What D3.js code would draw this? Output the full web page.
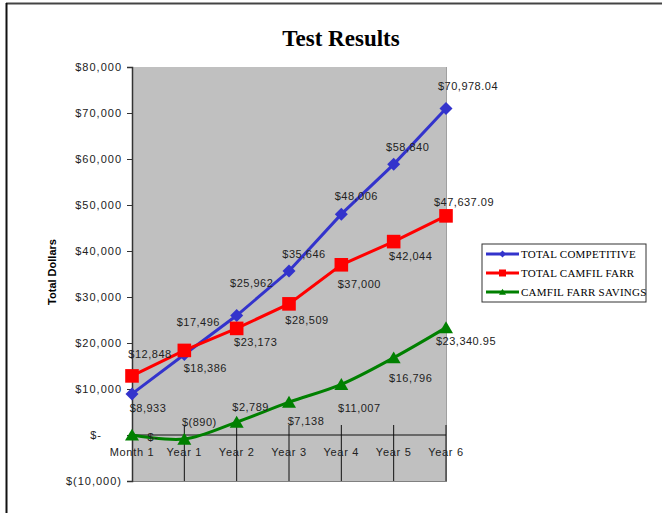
<!DOCTYPE html>
<html>
<head>
<meta charset="utf-8">
<script src="https://cdn.jsdelivr.net/npm/d3@7"></script>
<style>
  body { margin: 0; background: #fff; }
  svg { display: block; font-family: Arial, "Liberation Sans", sans-serif; }
</style>
</head>
<body>
<svg id="chart"></svg>
<script>
const width = 662;
const height = 513;

// data
const categories = ['Month 1', 'Year 1', 'Year 2', 'Year 3', 'Year 4', 'Year 5', 'Year 6'];
const totalCompetitive = [8933, 17496, 25962, 35646, 48006, 58840, 70978.04];
const totalCamfil = [12848, 18386, 23173, 28509, 37000, 42044, 47637.09];
const camfilSavings = [0, -890, 2789, 7138, 11007, 16796, 23340.95];
const yTicks = [-10000, 0, 10000, 20000, 30000, 40000, 50000, 60000, 70000, 80000];

// label placement (dx, dy from the point)
const compOffsets = [[16, 14], [14, -32], [15, -32], [15, -17], [15, -18], [14, -17], [22, -22]];
const camfilOffsets = [[18, -22], [21, 18], [19, 14], [18, 16], [18, 19], [17, 15], [18, -14]];
const savingsOffsets = [[21, 2], [15, -17], [14, -15], [17, 19], [18, 24], [17, 20], [20, 14]];

const series = [
    {name: 'TOTAL COMPETITIVE', values: totalCompetitive, color: '#3333cc', marker: 'diamond', offsets: compOffsets, curve: d3.curveLinear},
    {name: 'TOTAL CAMFIL FARR', values: totalCamfil, color: '#ff0000', marker: 'square', offsets: camfilOffsets, curve: d3.curveLinear},
    {name: 'CAMFIL FARR SAVINGS', values: camfilSavings, color: '#008000', marker: 'triangle', offsets: savingsOffsets, curve: d3.curveCatmullRom.alpha(0.5)}
];

const plot = {left: 132, right: 446, top: 67, bottom: 481};

const svg = d3.select('#chart').attr('width', width).attr('height', height);

// outer frame (only top and left edges visible)
svg.append('line').attr('x1', 6).attr('x2', width).attr('y1', 3.5).attr('y2', 3.5)
    .attr('stroke', '#444').attr('stroke-width', 2);
svg.append('line').attr('x1', 6.5).attr('x2', 6.5).attr('y1', 3).attr('y2', height)
    .attr('stroke', '#111').attr('stroke-width', 2);

const x = d3.scalePoint().domain(categories).range([plot.left, plot.right]);
const y = d3.scaleLinear().domain([-10000, 80000]).range([plot.bottom, plot.top]);

function money(v) {
    if (v === 0) return '$-';
    const f = Number.isInteger(v) ? d3.format(',') : d3.format(',.2f');
    return v < 0 ? '$(' + f(-v) + ')' : '$' + f(v);
}

// plot background
svg.append('rect')
    .attr('x', plot.left).attr('y', plot.top)
    .attr('width', plot.right - plot.left).attr('height', plot.bottom - plot.top)
    .attr('fill', '#c0c0c0');
svg.append('line').attr('x1', plot.left).attr('x2', plot.right + 1)
    .attr('y1', plot.bottom + 0.5).attr('y2', plot.bottom + 0.5)
    .attr('stroke', '#808080');
svg.append('line').attr('x1', plot.right + 0.5).attr('x2', plot.right + 0.5)
    .attr('y1', plot.top).attr('y2', plot.bottom)
    .attr('stroke', '#a0a0a0');

// title
svg.append('text')
    .attr('x', 341).attr('y', 46)
    .attr('text-anchor', 'middle')
    .style('font-family', '"Liberation Serif", "Times New Roman", serif')
    .style('font-weight', 'bold')
    .style('font-size', '23px')
    .text('Test Results');

// y axis
const yAxis = svg.append('g')
    .attr('transform', `translate(${plot.left}, 0)`)
    .call(d3.axisLeft(y).tickValues(yTicks).tickSize(5).tickPadding(5).tickFormat(money));
yAxis.select('.domain').attr('stroke', '#333').attr('stroke-width', 1.5);
yAxis.selectAll('.tick line').attr('stroke', '#333');
yAxis.selectAll('.tick text')
    .style('font-size', '11px')
    .style('letter-spacing', '1px')
    .attr('fill', '#222')
    .attr('dx', d => d === 0 ? -20 : 0);

svg.append('text')
    .attr('transform', 'translate(56, 272) rotate(-90)')
    .attr('text-anchor', 'middle')
    .style('font-size', '11px')
    .style('font-weight', 'bold')
    .text('Total Dollars');

// x axis at zero
svg.append('line')
    .attr('x1', plot.left).attr('x2', plot.right)
    .attr('y1', y(0)).attr('y2', y(0))
    .attr('stroke', '#111');
svg.selectAll('.xtick')
    .data(categories.slice(1))
    .enter()
    .append('line')
    .attr('class', 'xtick')
    .attr('x1', d => x(d)).attr('x2', d => x(d))
    .attr('y1', y(0) - 10).attr('y2', plot.bottom)
    .attr('stroke', '#111');
svg.selectAll('.xlabel')
    .data(categories)
    .enter()
    .append('text')
    .attr('class', 'xlabel')
    .attr('x', d => x(d)).attr('y', y(0) + 21)
    .attr('text-anchor', 'middle')
    .style('font-size', '11px')
    .style('letter-spacing', '0.7px')
    .attr('fill', '#222')
    .text(d => d);

// markers
function markerPath(type, s) {
    if (type === 'diamond') return `M0,${-s}L${s},0L0,${s}L${-s},0Z`;
    if (type === 'square') return `M${-s},${-s}H${s}V${s}H${-s}Z`;
    return `M0,${-s * 0.9}L${s},${s * 0.8}L${-s},${s * 0.8}Z`;
}
const markerSize = {diamond: 6.5, square: 6.8, triangle: 7};

series.forEach(s => {
    const pts = s.values.map((v, i) => ({cat: categories[i], value: v, off: s.offsets[i]}));
    svg.append('path')
        .datum(pts)
        .attr('fill', 'none')
        .attr('stroke', s.color)
        .attr('stroke-width', 3)
        .attr('d', d3.line().curve(s.curve).x(d => x(d.cat)).y(d => y(d.value)));
    svg.selectAll(null)
        .data(pts)
        .enter()
        .append('path')
        .attr('transform', d => `translate(${x(d.cat)}, ${y(d.value)})`)
        .attr('d', markerPath(s.marker, markerSize[s.marker]))
        .attr('fill', s.color);
});

series.forEach(s => {
    const pts = s.values.map((v, i) => ({cat: categories[i], value: v, off: s.offsets[i]}));
    svg.selectAll(null)
        .data(pts)
        .enter()
        .append('text')
        .attr('x', d => x(d.cat) + d.off[0])
        .attr('y', d => y(d.value) + d.off[1])
        .attr('dy', '0.35em')
        .attr('text-anchor', 'middle')
        .style('font-size', '11px')
        .style('letter-spacing', '0.5px')
        .attr('fill', '#222')
        .text(d => money(d.value));
});

// legend
const legend = svg.append('g').attr('transform', 'translate(482, 244)');
legend.append('rect')
    .attr('width', 164).attr('height', 58)
    .attr('fill', '#fff').attr('stroke', '#333');
series.forEach((s, i) => {
    const ly = 10 + i * 19;
    legend.append('line')
        .attr('x1', 4).attr('x2', 37).attr('y1', ly).attr('y2', ly)
        .attr('stroke', s.color).attr('stroke-width', 3);
    legend.append('path')
        .attr('transform', `translate(20.5, ${ly})`)
        .attr('d', markerPath(s.marker, 3.5))
        .attr('fill', s.color);
    legend.append('text')
        .attr('x', 39).attr('y', ly + 4)
        .style('font-family', '"Liberation Serif", "Times New Roman", serif')
        .style('font-size', '11px')
        .style('letter-spacing', '0.25px')
        .text(s.name);
});
</script>
</body>
</html>
